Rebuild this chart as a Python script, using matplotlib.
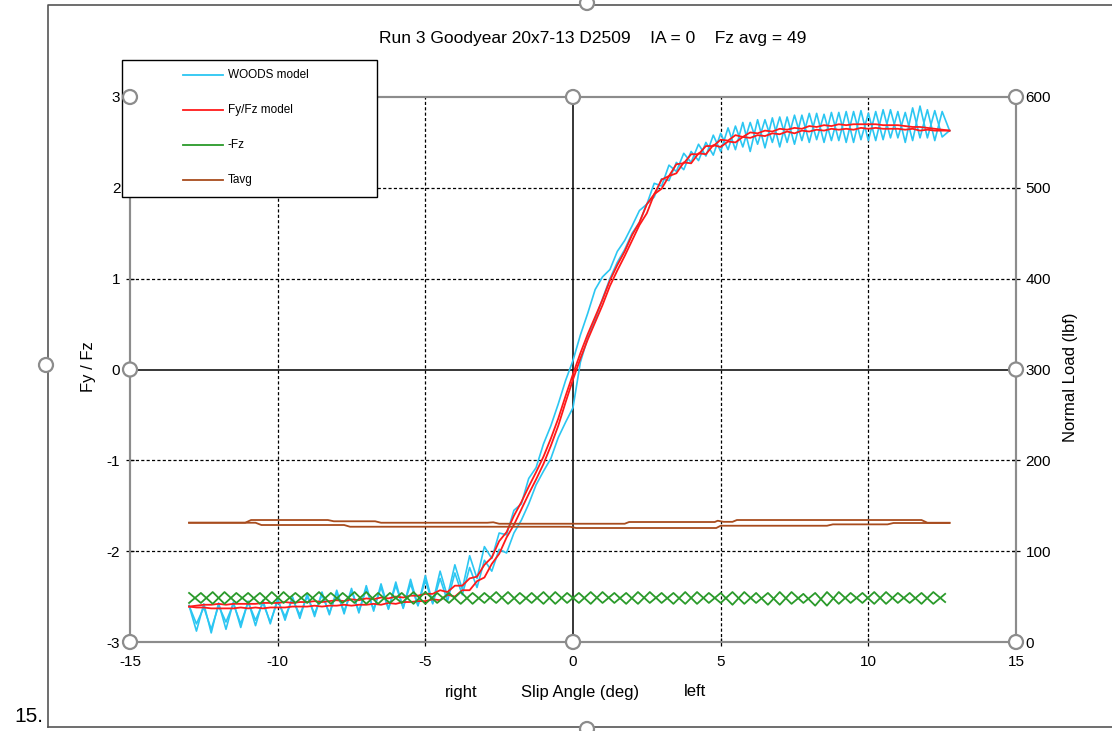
#!/usr/bin/python
# -*- coding: utf-8 -*-

"""
Run 3 - Goodyear 20x7-13 D2509, lateral force vs slip angle
"""

import matplotlib
matplotlib.use('Agg')
import matplotlib.pyplot as plt
from matplotlib.lines import Line2D
from matplotlib.patches import Ellipse, Rectangle
import numpy as np

W, H = 1112, 731

TITLE = 'Run 3 Goodyear 20x7-13 D2509    IA = 0    Fz avg = 49'
NAMES = ['WOODS model', 'Fy/Fz model', '-Fz', 'Tavg']
COLORS = ['#2BC6F2', '#FF1A1A', '#2A9A2A', '#A84C1E']

# Fy/Fz, sampled every 0.25 deg from -13 to 12.75 (one row per degree)
woods_out = [
    -2.60, -2.88, -2.58, -2.90,
    -2.57, -2.86, -2.56, -2.84,
    -2.55, -2.82, -2.54, -2.80,
    -2.52, -2.76, -2.50, -2.74,
    -2.47, -2.72, -2.45, -2.70,
    -2.43, -2.69, -2.41, -2.68,
    -2.38, -2.66, -2.36, -2.64,
    -2.34, -2.63, -2.31, -2.60,
    -2.27, -2.57, -2.22, -2.50,
    -2.15, -2.42, -2.05, -2.30,
    -1.95, -2.08, -1.80, -1.82,
    -1.55, -1.48, -1.20, -1.08,
    -0.82, -0.62, -0.38, -0.12,
    0.10, 0.38, 0.62, 0.88,
    1.02, 1.10, 1.30, 1.42,
    1.58, 1.75, 1.82, 2.05,
    2.02, 2.25, 2.18, 2.38,
    2.28, 2.48, 2.35, 2.58,
    2.40, 2.66, 2.42, 2.72,
    2.40, 2.75, 2.44, 2.77,
    2.45, 2.78, 2.48, 2.80,
    2.50, 2.82, 2.50, 2.83,
    2.52, 2.84, 2.50, 2.85,
    2.52, 2.84, 2.53, 2.86,
    2.55, 2.83, 2.52, 2.90,
    2.55, 2.85, 2.56, 2.63,
]
woods_back = [
    -2.60, -2.80, -2.62, -2.86,
    -2.60, -2.78, -2.58, -2.80,
    -2.56, -2.76, -2.57, -2.78,
    -2.55, -2.72, -2.53, -2.70,
    -2.50, -2.69, -2.48, -2.68,
    -2.46, -2.66, -2.44, -2.66,
    -2.42, -2.64, -2.40, -2.63,
    -2.38, -2.62, -2.36, -2.60,
    -2.32, -2.58, -2.30, -2.55,
    -2.24, -2.48, -2.18, -2.40,
    -2.10, -2.22, -1.98, -2.02,
    -1.80, -1.66, -1.48, -1.27,
    -1.12, -0.98, -0.75, -0.58,
    -0.42, 0.08, 0.35, 0.55,
    0.78, 1.00, 1.18, 1.32,
    1.50, 1.62, 1.82, 1.90,
    2.10, 2.08, 2.28, 2.20,
    2.40, 2.30, 2.50, 2.36,
    2.60, 2.42, 2.68, 2.45,
    2.72, 2.48, 2.75, 2.50,
    2.78, 2.50, 2.80, 2.52,
    2.82, 2.53, 2.81, 2.52,
    2.83, 2.50, 2.84, 2.53,
    2.82, 2.52, 2.86, 2.55,
    2.84, 2.50, 2.88, 2.55,
    2.86, 2.52, 2.84, 2.63,
]
model_out = [
    -2.61, -2.60, -2.59, -2.59,
    -2.58, -2.59, -2.58, -2.58,
    -2.58, -2.58, -2.57, -2.57,
    -2.57, -2.56, -2.57, -2.56,
    -2.56, -2.55, -2.56, -2.55,
    -2.54, -2.55, -2.53, -2.54,
    -2.52, -2.53, -2.51, -2.52,
    -2.50, -2.51, -2.49, -2.49,
    -2.47, -2.47, -2.43, -2.45,
    -2.38, -2.38, -2.30, -2.28,
    -2.15, -2.07, -1.89, -1.79,
    -1.61, -1.46, -1.29, -1.13,
    -0.96, -0.76, -0.54, -0.29,
    -0.05, 0.18, 0.39, 0.58,
    0.77, 0.98, 1.15, 1.30,
    1.48, 1.62, 1.82, 1.93,
    2.09, 2.13, 2.26, 2.27,
    2.37, 2.37, 2.46, 2.46,
    2.53, 2.52, 2.58, 2.56,
    2.61, 2.60, 2.63, 2.62,
    2.65, 2.64, 2.66, 2.65,
    2.68, 2.67, 2.69, 2.68,
    2.70, 2.69, 2.70, 2.70,
    2.70, 2.70, 2.69, 2.69,
    2.69, 2.68, 2.67, 2.67,
    2.66, 2.65, 2.64, 2.63,
]
model_back = [
    -2.61, -2.62, -2.62, -2.63,
    -2.63, -2.63, -2.63, -2.62,
    -2.63, -2.62, -2.63, -2.62,
    -2.62, -2.62, -2.61, -2.61,
    -2.61, -2.60, -2.61, -2.60,
    -2.60, -2.59, -2.60, -2.59,
    -2.59, -2.58, -2.59, -2.57,
    -2.58, -2.56, -2.56, -2.55,
    -2.55, -2.53, -2.54, -2.48,
    -2.50, -2.43, -2.43, -2.33,
    -2.29, -2.14, -2.03, -1.85,
    -1.71, -1.54, -1.37, -1.21,
    -1.04, -0.84, -0.62, -0.36,
    -0.11, 0.12, 0.33, 0.52,
    0.71, 0.92, 1.09, 1.25,
    1.42, 1.59, 1.72, 1.93,
    1.99, 2.13, 2.16, 2.28,
    2.27, 2.38, 2.37, 2.47,
    2.45, 2.51, 2.50, 2.56,
    2.55, 2.58, 2.57, 2.60,
    2.59, 2.62, 2.60, 2.63,
    2.62, 2.64, 2.63, 2.65,
    2.64, 2.65, 2.64, 2.66,
    2.65, 2.66, 2.65, 2.65,
    2.65, 2.64, 2.65, 2.63,
    2.64, 2.63, 2.63, 2.63,
]

# -Fz (lbf), sampled every 0.4 deg from -13 to 12.6
fz_out = [
    54, 43, 55, 42, 54,
    43, 54, 42, 55, 43,
    54, 42, 54, 43, 55,
    42, 54, 43, 54, 42,
    55, 43, 54, 42, 54,
    43, 55, 42, 54, 43,
    55, 42, 54, 43, 55,
    43, 54, 42, 55, 43,
    54, 42, 55, 42, 54,
    43, 55, 42, 54, 41,
    55, 42, 53, 40, 55,
    42, 54, 43, 55, 42,
    54, 43, 54, 42, 53,
]
fz_back = [
    43, 54, 42, 55, 43,
    54, 42, 55, 43, 54,
    43, 55, 42, 54, 43,
    55, 42, 54, 43, 55,
    42, 54, 43, 55, 42,
    54, 43, 55, 42, 54,
    42, 55, 43, 54, 42,
    55, 43, 54, 42, 55,
    43, 54, 42, 55, 43,
    54, 41, 55, 43, 54,
    41, 55, 43, 54, 40,
    55, 43, 54, 42, 55,
    43, 54, 42, 55, 44,
]

# Tavg: slip angle / value break points of both sweeps
tavg_out_sa = [-13.0, -11.1, -10.9, -8.3, -8.1, -6.7, -6.5, -2.9, -2.7, -2.5,
               1.75, 1.9, 4.8, 4.9, 5.1, 5.4, 5.55, 11.8, 12.0, 12.75]
tavg_out = [131.3, 131.3, 134.3, 134.3, 132.9, 132.9, 131.3, 131.3, 131.8, 130.2,
            130.2, 132.1, 132.1, 133.5, 132.3, 132.3, 134.3, 134.3, 131.3, 131.3]
tavg_back_sa = [-13.0, -10.75, -10.55, -7.75, -7.55, -0.1, 0.1, 4.85, 5.0,
                8.6, 8.8, 10.65, 10.85, 12.75]
tavg_back = [131.3, 131.3, 128.8, 128.8, 126.9, 126.9, 125.5, 125.5, 128.0,
             128.0, 129.5, 129.5, 131.0, 131.0]


def fx(px):
    return px / W


def fy(py):
    return 1 - py / H


def handle(fig, px, py, r=7):
    """grey selection knob"""
    fig.add_artist(Ellipse((fx(px), fy(py)), 2 * r / W, 2 * r / H,
                           transform=fig.transFigure, facecolor='white',
                           edgecolor='#8c8c8c', lw=1.6, zorder=20))


def main():
    plt.rcParams['font.family'] = ['Liberation Sans', 'DejaVu Sans']
    plt.rcParams['axes.unicode_minus'] = False
    fig = plt.figure(figsize=(W / 100, H / 100), dpi=100)
    L, R, T, B = 130, 1016, 97, 642
    ax = fig.add_axes([fx(L), fy(B), (R - L) / W, (B - T) / H])
    ax2 = ax.twinx()

    sa_fy = np.linspace(-13, 12.75, len(model_out))
    sa_fz = np.linspace(-13, 12.6, len(fz_out))

    ax.plot(sa_fy, woods_out, color=COLORS[0], lw=1.2)
    ax.plot(sa_fy, woods_back, color=COLORS[0], lw=1.2)
    ax.plot(sa_fy, model_out, color=COLORS[1], lw=1.3)
    ax.plot(sa_fy, model_back, color=COLORS[1], lw=1.3)
    ax2.plot(sa_fz, fz_out, color=COLORS[2], lw=1.3)
    ax2.plot(sa_fz, fz_back, color=COLORS[2], lw=1.3)
    ax2.plot(tavg_out_sa, tavg_out, color=COLORS[3], lw=1.3)
    ax2.plot(tavg_back_sa, tavg_back, color=COLORS[3], lw=1.3)

    ax.set_xlim(-15, 15)
    ax.set_ylim(-3, 3)
    ax2.set_ylim(0, 600)
    ax.set_xticks(range(-15, 16, 5))
    ax.set_yticks(range(-3, 4))
    ax2.set_yticks(range(0, 601, 100))

    for x in (-10, -5, 5, 10):
        ax.axvline(x, color='black', lw=0.9, ls=(0, (2.5, 1.8)), zorder=1)
    for y in (-2, -1, 1, 2):
        ax.axhline(y, color='black', lw=0.9, ls=(0, (2.5, 1.8)), zorder=1)
    ax.axvline(0, color='black', lw=1.1, zorder=1)
    ax.axhline(0, color='black', lw=1.1, zorder=1)

    for a in (ax, ax2):
        for s in a.spines.values():
            s.set_color('#8c8c8c')
            s.set_linewidth(1.5)
        a.tick_params(labelsize=11, colors='black', direction='inout',
                      length=6, width=0.9, pad=4)
    ax.tick_params(axis='x', pad=6)

    fig.text(fx(593), fy(38), TITLE, fontsize=12.5, ha='center', va='center')
    fig.text(fx(88), fy(367), 'Fy / Fz', fontsize=12, rotation=90,
             ha='center', va='center')
    fig.text(fx(1070), fy(377), 'Normal Load (lbf)', fontsize=12,
             rotation=90, ha='center', va='center')
    fig.text(fx(461), fy(692), 'right', fontsize=12, ha='center', va='center')
    fig.text(fx(580), fy(692), 'Slip Angle (deg)', fontsize=12,
             ha='center', va='center')
    fig.text(fx(695), fy(692), 'left', fontsize=12, ha='center', va='center')
    fig.text(fx(14), fy(717), '15.', fontsize=15, ha='left', va='center')

    # legend box
    fig.add_artist(Rectangle((fx(122), fy(197)), 255 / W, 137 / H,
                             transform=fig.transFigure, facecolor='white',
                             edgecolor='black', lw=1.0, zorder=10))
    for i, (name, c) in enumerate(zip(NAMES, COLORS)):
        yy = fy(75 + 35 * i)
        fig.add_artist(Line2D([fx(183), fx(223)], [yy, yy], color=c, lw=1.3,
                              transform=fig.transFigure, zorder=11))
        fig.text(fx(228), yy, name, fontsize=8.5, ha='left', va='center',
                 zorder=11)

    # chart area frame
    fig.add_artist(Line2D([fx(48), fx(48), fx(1112)], [fy(727), fy(5), fy(5)],
                          color='#555555', lw=1.2, transform=fig.transFigure))
    fig.add_artist(Line2D([fx(48), fx(1112)], [fy(727), fy(727)],
                          color='#555555', lw=1.2, transform=fig.transFigure))
    for px, py in ((587, 3), (46, 365), (587, 729)):
        handle(fig, px, py)

    # plot area knobs
    for px in (L, (L + R) / 2, R):
        for py in (T, (T + B) / 2, B):
            if px == (L + R) / 2 and py == (T + B) / 2:
                continue
            handle(fig, px, py)

    fig.savefig('out.png', dpi=100)


if __name__ == '__main__':
    main()
